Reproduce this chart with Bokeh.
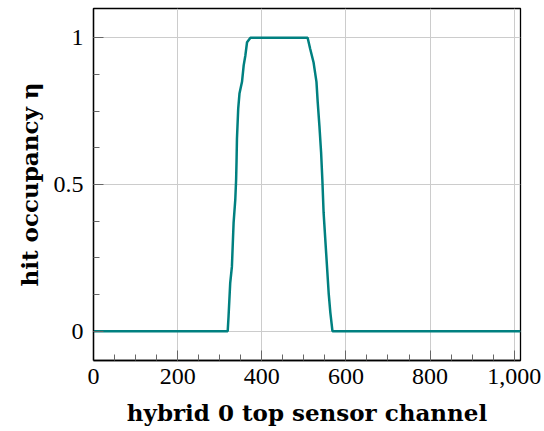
from bokeh.plotting import figure
from bokeh.models import Range1d, FixedTicker
from bokeh.embed import file_html
from bokeh.resources import INLINE

# channel / hit occupancy
channel = [0, 319, 321, 325, 329, 333, 337, 339, 340, 341, 344, 347, 353, 357, 361, 365, 373,
           509, 515, 523, 530, 533, 537, 541, 544, 547, 553, 559, 563, 568, 1015]
occupancy = [0, 0, 0.05, 0.165, 0.22, 0.369, 0.448, 0.516, 0.578, 0.656, 0.759, 0.81, 0.85, 0.906, 0.94, 0.985, 1.0,
             1.0, 0.963, 0.917, 0.85, 0.78, 0.70, 0.61, 0.516, 0.403, 0.267, 0.13, 0.063, 0.0, 0.0]

x_ticks = [0, 200, 400, 600, 800, 1000]
x_labels = ["0", "200", "400", "600", "800", "1,000"]
x_minor = [v for v in range(0, 1016, 50)]
y_ticks = [0, 0.5, 1]
y_labels = ["0", "0.5", "1"]
y_minor = [i * 0.125 for i in range(0, 9)]

FONT = "Liberation Serif"
LABEL_FONT = "DejaVu Serif"

p = figure(frame_width=427, frame_height=352, output_backend="svg", toolbar_location=None,
           x_range=Range1d(0, 1015), y_range=Range1d(-0.1, 1.1),
           min_border_left=93, min_border_right=24, min_border_top=8, min_border_bottom=71)

p.line(channel, occupancy, line_color="#008080", line_width=2.5)

p.xaxis.ticker = FixedTicker(ticks=x_ticks, minor_ticks=x_minor)
p.xaxis.major_label_overrides = {t: l for t, l in zip(x_ticks, x_labels)}
p.yaxis.ticker = FixedTicker(ticks=y_ticks, minor_ticks=y_minor)
p.yaxis.major_label_overrides = {t: l for t, l in zip(y_ticks, y_labels)}

p.xaxis.axis_label = "hybrid 0 top sensor channel"
p.yaxis.axis_label = "hit occupancy η"

for ax in (p.xaxis, p.yaxis):
    ax.axis_label_text_font = LABEL_FONT
    ax.axis_label_text_font_style = "bold"
    ax.axis_label_text_font_size = "23px"
    ax.axis_label_text_color = "black"
    ax.major_label_text_font = FONT
    ax.major_label_text_font_size = "24px"
    ax.major_label_text_color = "black"
    ax.axis_line_color = "black"
    ax.axis_line_width = 1.3
    ax.major_tick_in = 10
    ax.major_tick_out = 0
    ax.minor_tick_in = 6
    ax.minor_tick_out = 0
    ax.major_tick_line_color = "#666666"
    ax.minor_tick_line_color = "#666666"

p.xaxis.major_label_standoff = 8
p.yaxis.major_label_standoff = 10
p.xaxis.axis_label_standoff = 12
p.yaxis.axis_label_standoff = 8

p.xgrid.ticker = FixedTicker(ticks=x_ticks)
p.ygrid.ticker = FixedTicker(ticks=y_ticks)
p.grid.grid_line_color = "#cccccc"
p.grid.grid_line_width = 1

p.outline_line_color = "black"
p.outline_line_width = 1.3
p.background_fill_color = "white"
p.border_fill_color = "white"

open("out.html", "w").write(file_html(p, INLINE))
